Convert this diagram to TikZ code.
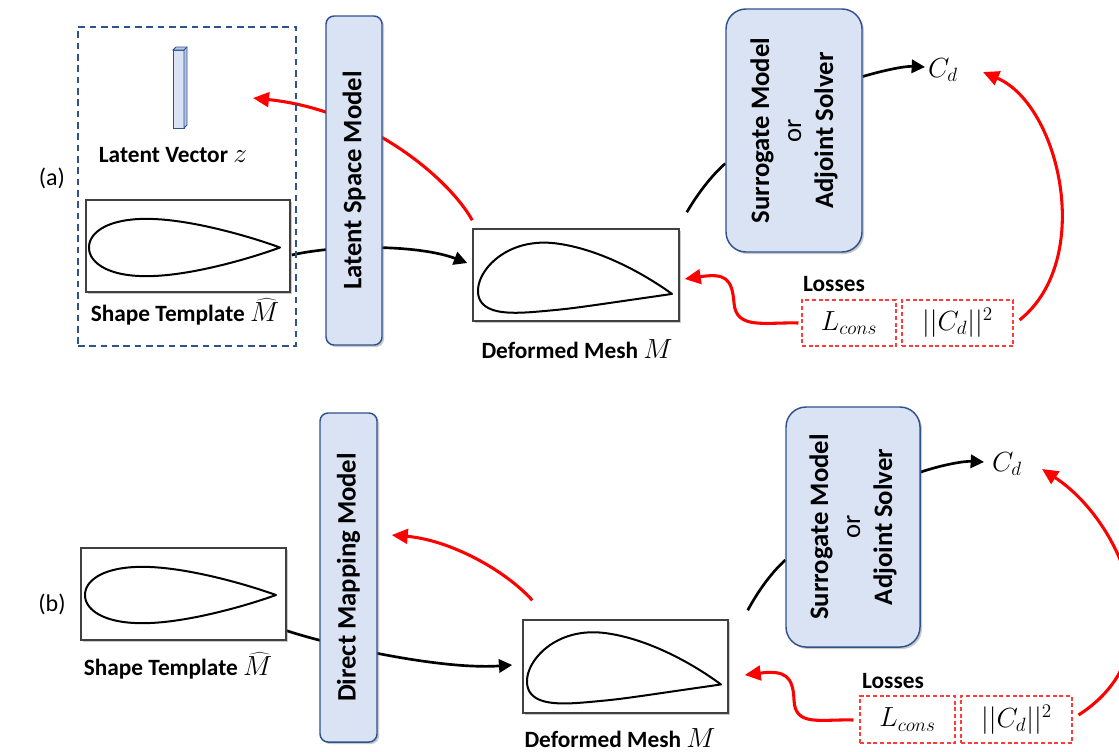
\documentclass[tikz,border=0pt]{standalone}
\usepackage{fontspec}
\setmainfont{Carlito}
\usetikzlibrary{arrows.meta,shadows,calc}
\definecolor{boxfill}{HTML}{DAE3F3}
\definecolor{boxline}{HTML}{2F528F}
\definecolor{vecside}{HTML}{B4C7E7}
\definecolor{lossred}{HTML}{FF3B3B}
\definecolor{arrred}{HTML}{FF0000}
\pgfdeclarelayer{bg}
\pgfsetlayers{bg,main}
\newcommand{\pxu}{0.75pt}
\newcommand{\lblmath}[1]{{\fontsize{21}{21}\selectfont$#1$}}
\tikzset{declare function={
  ytf(\xa,\ta)=5*\ta*(0.2969*sqrt(\xa)-0.1260*\xa-0.3516*\xa*\xa+0.2843*\xa*\xa*\xa-0.1036*\xa*\xa*\xa*\xa);
  ycf(\xa,\ma,\pa)=(\xa<\pa)*(\ma/(\pa*\pa)*(2*\pa*\xa-\xa*\xa))+(\xa>=\pa)*(\ma/((1-\pa)*(1-\pa))*((1-2*\pa)+2*\pa*\xa-\xa*\xa));
}}
\newcommand{\airfoil}[6]{%
  \begin{scope}[shift={(#1,#2)}, x={(#3*0.75pt,0)}, y={(0,#3*0.75pt)}, rotate=#6]
    \draw[foil] plot[variable=\s, domain=-1:1, samples=101, smooth]
      ({\s*\s}, {ycf(\s*\s,#5,0.4)+((\s>=0)*2-1)*ytf(\s*\s,#4)}) -- cycle;
  \end{scope}}
\begin{document}
\begin{tikzpicture}[x=0.75pt, y=-0.75pt,
  shadowed/.style={drop shadow={opacity=0.35, shadow xshift=1.5pt, shadow yshift=-1.5pt, fill=black!60}},
  meshbox/.style={draw=black!75, line width=1.1pt, fill=white, shadowed},
  modelbox/.style={draw=boxline, line width=1.1pt, fill=boxfill, rounded corners=6pt, shadowed},
  solverbox/.style={modelbox, rounded corners=15pt},
  lossbox/.style={draw=lossred, line width=0.8pt, dash pattern=on 3pt off 2pt},
  grpbox/.style={draw=boxline, line width=1.1pt, dash pattern=on 5pt off 3.5pt},
  lbl/.style={font=\fontsize{17.5}{20}\selectfont\bfseries, inner sep=1pt},
  partlbl/.style={font=\fontsize{18}{20}\selectfont},
  rlbl/.style={rotate=90, align=center, font=\fontsize{20}{24}\selectfont\bfseries},
  mathlbl/.style={font=\fontsize{21}{24}\selectfont},
  blk/.style={line width=2pt, -{Triangle[length=10pt,width=10pt]}},
  blkl/.style={line width=2pt},
  redar/.style={draw=arrred, line width=2.3pt, -{Triangle[length=12pt,width=11pt]}},
  foil/.style={line width=1.5pt, line join=round}]
\clip (0,0) rectangle (1119,751);

% ---------------- part (a) ----------------
\node[partlbl] (labA) at (52,178) {(a)};
\node[grpbox, minimum width=218*\pxu, minimum height=319*\pxu] (grpA) at (187,186.5) {};
\node[draw=boxline, fill=boxfill, line width=0.7pt, inner sep=0, outer sep=0,
      minimum width=11*\pxu, minimum height=78*\pxu] (vecA) at (178.5,89) {};
\filldraw[fill=vecside, draw=boxline, line width=0.7pt]
  (vecA.north west) -- ++(3,-3) -- ++(11,0) -- ++(0,78) -- (vecA.south east) -- (vecA.north east) -- cycle;
\draw[boxline, line width=0.7pt] (vecA.north east) -- ++(3,-3);
\node[lbl] (lvA) at (173,155) {Latent Vector \lblmath{z}};
\node[meshbox, minimum width=204*\pxu, minimum height=92*\pxu] (tmplA) at (188,246) {};
\node[lbl] (tlA) at (185,312) {Shape Template \lblmath{\widehat{M}}};
\node[modelbox, minimum width=56*\pxu, minimum height=329*\pxu] (lsm) at (354,180.5) {};
\node[rlbl] (lsmt) at (lsm.center) {Latent Space Model};
\node[meshbox, minimum width=206*\pxu, minimum height=92*\pxu] (defA) at (576,275) {};
\node[lbl] (dlA) at (577,349) {Deformed Mesh \lblmath{M}};
\node[solverbox, minimum width=136*\pxu, minimum height=243*\pxu] (surA) at (794,130.5) {};
\node[rlbl] (surAt) at (surA.center) {Surrogate Model\\{\mdseries or}\\Adjoint Solver};
\node[mathlbl] (cdA) at (943,70) {$C_d$};
\node[lbl] (lossA) at (834,284) {Losses};
\node[lossbox, mathlbl, minimum width=94*\pxu, minimum height=46*\pxu] (lcA) at (849,323) {$L_{cons}$};
\node[lossbox, mathlbl, minimum width=111*\pxu, minimum height=46*\pxu] (cnA) at (957.5,323) {$||C_d||^2$};
\coordinate (zin) at (253,98);

\airfoil{89}{247.5}{191}{0.30}{0}{0}
\airfoil{478}{290.5}{194}{0.355}{0.078}{-1}

% ---------------- part (b) ----------------
\node[partlbl] (labB) at (52,604) {(b)};
\node[meshbox, minimum width=205*\pxu, minimum height=92*\pxu] (tmplB) at (183.5,594) {};
\node[lbl] (tlB) at (178,666) {Shape Template \lblmath{\widehat{M}}};
\node[modelbox, minimum width=57*\pxu, minimum height=329*\pxu] (dmm) at (348.5,577.5) {};
\node[rlbl] (dmmt) at (dmm.center) {Direct Mapping Model};
\node[meshbox, minimum width=205*\pxu, minimum height=93*\pxu] (defB) at (625.5,666.5) {};
\node[lbl] (dlB) at (620,738) {Deformed Mesh \lblmath{M}};
\node[solverbox, minimum width=134*\pxu, minimum height=240*\pxu] (surB) at (853,527) {};
\node[rlbl] (surBt) at (surB.center) {Surrogate Model\\{\mdseries or}\\Adjoint Solver};
\node[mathlbl] (cdB) at (1007,464) {$C_d$};
\node[lbl] (lossB) at (893,681) {Losses};
\node[lossbox, mathlbl, minimum width=95*\pxu, minimum height=47*\pxu] (lcB) at (907.5,719.5) {$L_{cons}$};
\node[lossbox, mathlbl, minimum width=111*\pxu, minimum height=47*\pxu] (cnB) at (1016.5,719.5) {$||C_d||^2$};

\airfoil{85}{595}{191}{0.295}{0}{0}
\airfoil{527}{681}{194}{0.36}{0.08}{-1}

% ---------------- connectors ----------------
\begin{pgfonlayer}{bg}
\draw[blk] ($(tmplA.east)+(1,9)$) .. controls (340,244) and (420,245) .. ($(defA.west)+(-5,-12)$);
\draw[redar] ($(defA.north west)+(0,-8)$) .. controls (450,180) and (370,110) .. (zin);
\draw[blkl] ($(defA.north east)+(7,-16)$) .. controls (697,195) and (710,177) .. ($(surA.west)+(0,33)$);
\draw[blk] ($(surA.east)+(0,-54)$) .. controls (885,70) and (905,66) .. ($(cdA)+(-18,-3)$);
\draw[redar] ($(cnA.east)+(6,-3)$) .. controls (1095,260) and (1060,105) .. ($(cdA)+(40,2)$);
\draw[redar] ($(lcA.west)+(-3,0)$) .. controls (765,322) and (736,330) .. (734,303)
  .. controls (732,278) and (725,273) .. ($(defA.east)+(5,4)$);

\draw[blk] ($(tmplB.south east)+(0,-10)$) .. controls (330,645) and (440,670) .. ($(defB.west)+(-10,-1.5)$);
\draw[redar] ($(defB.north west)+(10,-19)$) .. controls (505,570) and (450,540) .. ($(dmm.east)+(14,-42.5)$);
\draw[blkl] ($(defB.north east)+(19,-9)$) .. controls (757,593) and (770,574) .. ($(surB.west)+(0,33)$);
\draw[blk] ($(surB.east)+(0,-55)$) .. controls (945,464) and (965,461) .. ($(cdB)+(-23,-2)$);
\draw[redar] ($(cnB.east)+(6,-4.5)$) .. controls (1180,650) and (1120,520) .. ($(cdB)+(35,5)$);
\draw[redar] ($(lcB.west)+(-6,0.5)$) .. controls (820,719) and (795,727) .. (794,700)
  .. controls (793,676) and (785,670) .. ($(defB.east)+(16,8.5)$);
\end{pgfonlayer}
\end{tikzpicture}
\end{document}
